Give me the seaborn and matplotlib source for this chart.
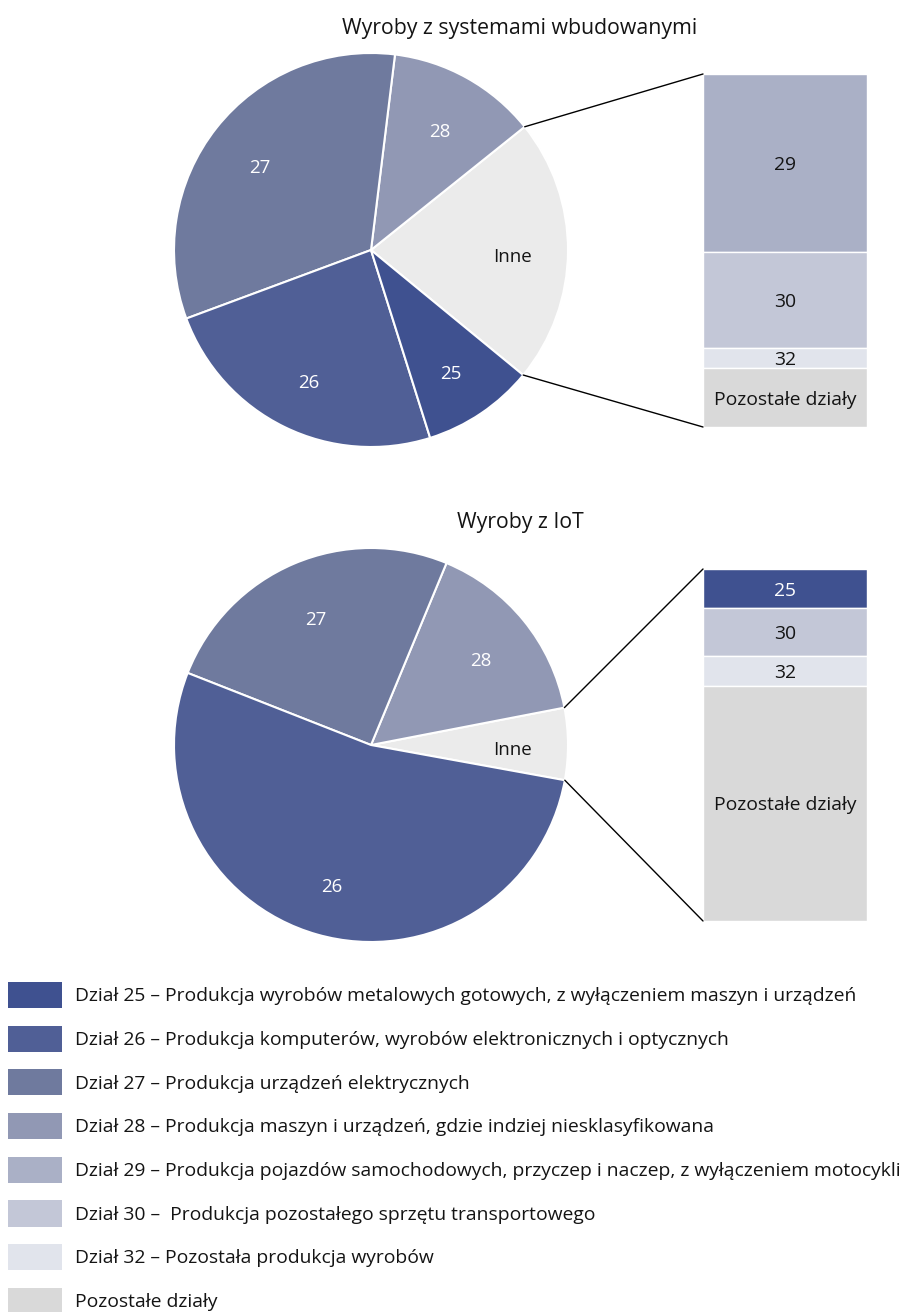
import matplotlib
matplotlib.use("Agg")
import matplotlib.pyplot as plt
import matplotlib.transforms as mtransforms
import seaborn as sns
from matplotlib.patches import ConnectionPatch, Patch
import numpy as np

sns.set_style("white")
plt.rcParams['font.family'] = ['Open Sans', 'DejaVu Sans']

# ---- data ----
colors = {
    "25": "#3f5190", "26": "#505f96", "27": "#6f7a9e", "28": "#9198b4",
    "29": "#aab0c6", "30": "#c3c7d7", "32": "#e1e4ec",
    "Pozostałe działy": "#d9d9d9", "Inne": "#ebebeb",
}

title1 = "Wyroby z systemami wbudowanymi"
pie1_labels = ["Inne", "28", "27", "26", "25"]
pie1_values = [21.7, 12.3, 32.6, 24.2, 9.2]
bar1_labels = ["29", "30", "32", "Pozostałe działy"]
bar1_values = [50.4, 27.2, 5.7, 16.7]

title2 = "Wyroby z IoT"
pie2_labels = ["Inne", "28", "27", "26"]
pie2_values = [5.9, 15.7, 25.3, 53.1]
bar2_labels = ["25", "30", "32", "Pozostałe działy"]
bar2_values = [11.1, 13.6, 8.5, 66.8]

legend_keys = ["25", "26", "27", "28", "29", "30", "32", "Pozostałe działy"]
legend_texts = [
    "Dział 25 – Produkcja wyrobów metalowych gotowych, z wyłączeniem maszyn i urządzeń",
    "Dział 26 – Produkcja komputerów, wyrobów elektronicznych i optycznych",
    "Dział 27 – Produkcja urządzeń elektrycznych",
    "Dział 28 – Produkcja maszyn i urządzeń, gdzie indziej niesklasyfikowana",
    "Dział 29 – Produkcja pojazdów samochodowych, przyczep i naczep, z wyłączeniem motocykli",
    "Dział 30 –  Produkcja pozostałego sprzętu transportowego",
    "Dział 32 – Pozostała produkcja wyrobów",
    "Pozostałe działy",
]
white_text = {"25", "26", "27", "28"}

W, H = 902, 1312
FS_PIE = 13.5
FS_BAR = 13.9
FS_TITLE = 15.3
FS_LEG = 13.85
TXT = "#141414"
fig = plt.figure(figsize=(W / 100, H / 100), dpi=100)
fig.patch.set_facecolor("white")
label_shift = mtransforms.ScaledTranslation(0, -4 / 100, fig.dpi_scale_trans)


def px_axes(x0, y0, x1, y1):
    return fig.add_axes([x0 / W, 1 - y1 / H, (x1 - x0) / W, (y1 - y0) / H])


def draw_group(pie_box, bar_box, labels, values, start, blabels, bvalues, title, title_y):
    axp = px_axes(*pie_box)
    wedges, texts = axp.pie(values, labels=labels, startangle=start, counterclock=True,
                            colors=[colors[l] for l in labels], labeldistance=0.72,
                            wedgeprops=dict(edgecolor="white", linewidth=1.5),
                            textprops=dict(fontsize=FS_PIE))
    for t, l in zip(texts, labels):
        t.set_color("white" if l in white_text else TXT)
        t.set_ha("center")
        t.set_va("center_baseline")
        t.set_transform(axp.transData + label_shift)
    axp.set_xlim(-1, 1)
    axp.set_ylim(-1, 1)
    axp.set_aspect("equal")
    axp.axis("off")

    axb = px_axes(*bar_box)
    total = sum(bvalues)
    bottom = 0
    for l, v in zip(blabels, bvalues):
        axb.bar(0, v, bottom=bottom, width=1, color=colors[l], edgecolor="white", linewidth=1)
        axb.text(0, bottom + v / 2, l, ha="center", va="center_baseline", fontsize=FS_BAR,
                 color="white" if l in white_text else TXT)
        bottom += v
    axb.set_xlim(-0.5, 0.5)
    axb.set_ylim(total, 0)
    axb.axis("off")

    t1 = np.deg2rad(start)
    t2 = np.deg2rad(start + 360 * values[0] / sum(values))
    for th, yb in [(t2, 0), (t1, total)]:
        cp = ConnectionPatch(xyA=(np.cos(th), np.sin(th)), coordsA=axp.transData,
                             xyB=(-0.5, yb), coordsB=axb.transData,
                             color="black", linewidth=1)
        fig.add_artist(cp)

    fig.text(520 / W, 1 - title_y / H, title, ha="center", va="center_baseline",
             fontsize=FS_TITLE, color=TXT)


draw_group((174, 53, 568, 447), (703, 74, 867, 427), pie1_labels, pie1_values, -39.4,
           bar1_labels, bar1_values, title1, 26)
draw_group((174, 548, 568, 942), (703, 569, 867, 921), pie2_labels, pie2_values, -10.3,
           bar2_labels, bar2_values, title2, 520)

fs_px = FS_LEG * 100 / 72
handles = [Patch(facecolor=colors[k], edgecolor="none") for k in legend_keys]
fig.legend(handles, legend_texts, loc="upper left", bbox_to_anchor=(8 / W, 1 - 982 / H),
           frameon=False, fontsize=FS_LEG, handlelength=54 / fs_px, handleheight=33 / fs_px,
           handletextpad=13 / fs_px, labelspacing=0.91, borderpad=0, borderaxespad=0,
           labelcolor=TXT)

fig.savefig("out.png", dpi=100, facecolor="white")
